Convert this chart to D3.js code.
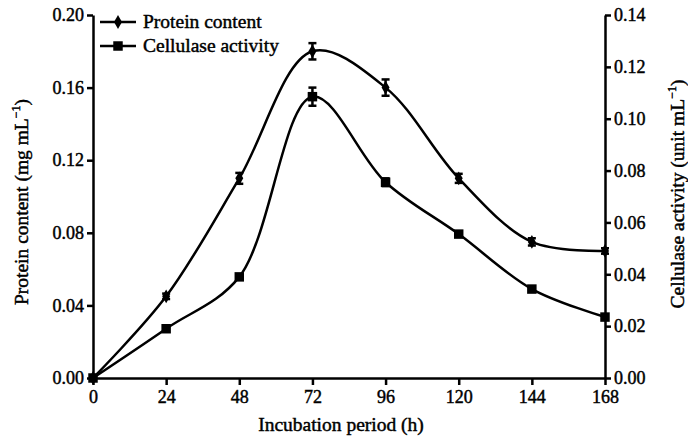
<!DOCTYPE html>
<html lang="en">
<head>
<meta charset="UTF-8" />
<title>Protein content and cellulase activity</title>
<script src="https://cdn.jsdelivr.net/npm/d3@7"></script>
<style>
	body { margin: 0; background: #fff; }
	text { font-family: "Liberation Serif", "Times New Roman", serif; fill: #000; stroke: #000; stroke-width: 0.45px; }
</style>
</head>
<body>
<svg id="vis" width="688" height="440"></svg>
<script>
	// Valeurs
	const hours = [0, 24, 48, 72, 96, 120, 144, 168];
	const protein = [0, 0.045, 0.11, 0.18, 0.16, 0.11, 0.075, 0.07];
	const proteinErr = [0, 0.0015, 0.003, 0.0045, 0.0045, 0.0025, 0.002, 0.0015];
	const cellulase = [0, 0.019, 0.039, 0.1085, 0.0755, 0.0555, 0.0343, 0.0235];
	const cellulaseErr = [0, 0, 0, 0.0035, 0.0015, 0.001, 0, 0];
	const xTicks = [0, 24, 48, 72, 96, 120, 144, 168];
	const leftTicks = [0, 0.04, 0.08, 0.12, 0.16, 0.20];
	const rightTicks = [0, 0.02, 0.04, 0.06, 0.08, 0.10, 0.12, 0.14];
	const legendNames = ["Protein content", "Cellulase activity"];

	const svg = d3.select("#vis");

	// Echelles
	const scaleX = d3.scaleLinear().domain([0, 168]).range([93, 605]);
	const scaleYL = d3.scaleLinear().domain([0, 0.2]).range([378, 15]);
	const scaleYR = d3.scaleLinear().domain([0, 0.14]).range([378, 15]);

	function styleAxis(g) {
		g.selectAll("path, line").attr("stroke", "#000").attr("stroke-width", 2.5);
		g.selectAll("text").attr("font-size", 18).attr("fill", "#000")
			.style("font-family", "Liberation Serif");
	}

	// Axes
	const gx = svg.append("g").attr("transform", "translate(0,378)")
		.call(d3.axisBottom(scaleX).tickValues(xTicks).tickSize(7).tickSizeOuter(0).tickPadding(5));
	styleAxis(gx);

	const gyL = svg.append("g").attr("transform", "translate(93,0)")
		.call(d3.axisLeft(scaleYL).tickValues(leftTicks).tickFormat(d3.format(".2f")).tickSize(6).tickSizeOuter(0).tickPadding(3));
	styleAxis(gyL);

	const gyR = svg.append("g").attr("transform", "translate(605,0)")
		.call(d3.axisRight(scaleYR).tickValues(rightTicks).tickFormat(d3.format(".2f")).tickSize(6).tickSizeOuter(0).tickPadding(3));
	styleAxis(gyR);

	// Titres des axes
	svg.append("text").attr("x", 341).attr("y", 431).attr("text-anchor", "middle")
		.attr("font-size", 19.5).text("Incubation period (h)");

	const tl = svg.append("text").attr("transform", "translate(28,202) rotate(-90)")
		.attr("text-anchor", "middle").attr("font-size", 19.5);
	tl.append("tspan").text("Protein content (mg mL");
	tl.append("tspan").attr("font-size", 12).attr("dy", -8).text("\u22121");
	tl.append("tspan").attr("dy", 8).text(")");

	const tr = svg.append("text").attr("transform", "translate(684,194) rotate(-90)")
		.attr("text-anchor", "middle").attr("font-size", 19.5);
	tr.append("tspan").text("Cellulase activity (unit mL");
	tr.append("tspan").attr("font-size", 12).attr("dy", -8).text("\u22121");
	tr.append("tspan").attr("dy", 8).text(")");

	// Courbes
	const series = [
		{ values: protein, err: proteinErr, scaleY: scaleYL, symbol: d3.symbolDiamond, size: 55 },
		{ values: cellulase, err: cellulaseErr, scaleY: scaleYR, symbol: d3.symbolSquare, size: 90 }
	];

	series.forEach(function (s) {
		const line = d3.line()
			.x((d, i) => scaleX(hours[i]))
			.y(d => s.scaleY(d))
			.curve(d3.curveCatmullRom);
		svg.append("path").attr("d", line(s.values))
			.attr("fill", "none").attr("stroke", "#000").attr("stroke-width", 2.5);

		const g = svg.append("g");
		s.values.forEach(function (v, i) {
			const x = scaleX(hours[i]);
			if (s.err[i] > 0) {
				const y1 = s.scaleY(v + s.err[i]);
				const y2 = s.scaleY(v - s.err[i]);
				g.append("line").attr("x1", x).attr("x2", x).attr("y1", y1).attr("y2", y2)
					.attr("stroke", "#000").attr("stroke-width", 2.5);
				g.append("line").attr("x1", x - 4).attr("x2", x + 4).attr("y1", y1).attr("y2", y1)
					.attr("stroke", "#000").attr("stroke-width", 2.5);
				g.append("line").attr("x1", x - 4).attr("x2", x + 4).attr("y1", y2).attr("y2", y2)
					.attr("stroke", "#000").attr("stroke-width", 2.5);
			}
			g.append("path").attr("d", d3.symbol().type(s.symbol).size(s.size)())
				.attr("transform", "translate(" + x + "," + s.scaleY(v) + ")")
				.attr("fill", "#000");
		});
	});

	// Légende
	const legend = svg.append("g");
	series.forEach(function (s, i) {
		const y = 22 + i * 24;
		legend.append("line").attr("x1", 100).attr("x2", 136).attr("y1", y).attr("y2", y)
			.attr("stroke", "#000").attr("stroke-width", 2.5);
		legend.append("path").attr("d", d3.symbol().type(s.symbol).size(s.size)())
			.attr("transform", "translate(118," + y + ")").attr("fill", "#000");
		legend.append("text").attr("x", 143).attr("y", y + 6).attr("font-size", 19.5).text(legendNames[i]);
	});
</script>
</body>
</html>
